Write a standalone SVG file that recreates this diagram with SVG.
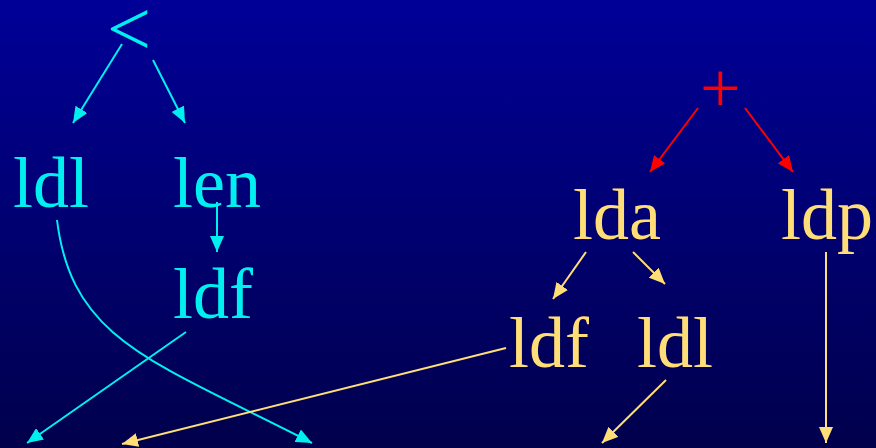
<svg xmlns="http://www.w3.org/2000/svg" width="876" height="448" viewBox="0 0 876 448">
<defs>
<linearGradient id="bg" x1="0" y1="0" x2="0" y2="1">
<stop offset="0" stop-color="#000098"/>
<stop offset="1" stop-color="#00004C"/>
</linearGradient>
<marker id="ac" markerUnits="userSpaceOnUse" markerWidth="16" markerHeight="14" refX="16" refY="7" orient="auto"><path d="M0,0 L16,7 L0,14 z" fill="#00F0F0"/></marker>
<marker id="ag" markerUnits="userSpaceOnUse" markerWidth="16" markerHeight="14" refX="16" refY="7" orient="auto"><path d="M0,0 L16,7 L0,14 z" fill="#FFDD77"/></marker>
<marker id="ar" markerUnits="userSpaceOnUse" markerWidth="16" markerHeight="14" refX="16" refY="7" orient="auto"><path d="M0,0 L16,7 L0,14 z" fill="#FF0000"/></marker>
</defs>
<style>
text{font-family:"Liberation Serif","Times New Roman",serif;font-size:72px}
.c{fill:#00F0F0}.g{fill:#FFDD77}.r{fill:#FF0000}
.lc{stroke:#00F0F0;stroke-width:2;fill:none;marker-end:url(#ac)}
.lg{stroke:#FFDD77;stroke-width:2;fill:none;marker-end:url(#ag)}
.lr{stroke:#FF0000;stroke-width:2;fill:none;marker-end:url(#ar)}
</style>
<rect width="876" height="448" fill="url(#bg)"/>
<g id="lt"><text class="c" x="107" y="55" style="font-size:78px">&lt;</text></g>
<g id="ldl1"><text class="c" x="13" y="207">ldl</text></g>
<g id="len"><text class="c" x="173" y="207">len</text></g>
<g id="ldf1"><text class="c" x="173" y="318">ldf</text></g>
<g id="plus"><text class="r" x="700" y="112">+</text></g>
<g id="lda"><text class="g" x="573" y="239">lda</text></g>
<g id="ldp"><text class="g" x="781" y="239">ldp</text></g>
<g id="ldf2"><text class="g" x="509" y="367">ldf</text></g>
<g id="ldl2"><text class="g" x="637" y="367">ldl</text></g>
<g id="connectors">
<path class="lc" d="M122,44 L73,123"/>
<path class="lc" d="M153,60 L185,123"/>
<path class="lc" d="M217,202 L217,252"/>
<path class="lc" d="M57,220 C72,340 150,360 312,443"/>
<path class="lc" d="M186,332 L27,443"/>
<path class="lg" d="M506,348 L122,444"/>
<path class="lg" d="M586,252 L553,299"/>
<path class="lg" d="M633,252 L665,284"/>
<path class="lg" d="M666,380 L602,443"/>
<path class="lg" d="M826,252 L826,443"/>
<path class="lr" d="M698,108 L650,172"/>
<path class="lr" d="M745,108 L793,172"/>
</g>
</svg>
